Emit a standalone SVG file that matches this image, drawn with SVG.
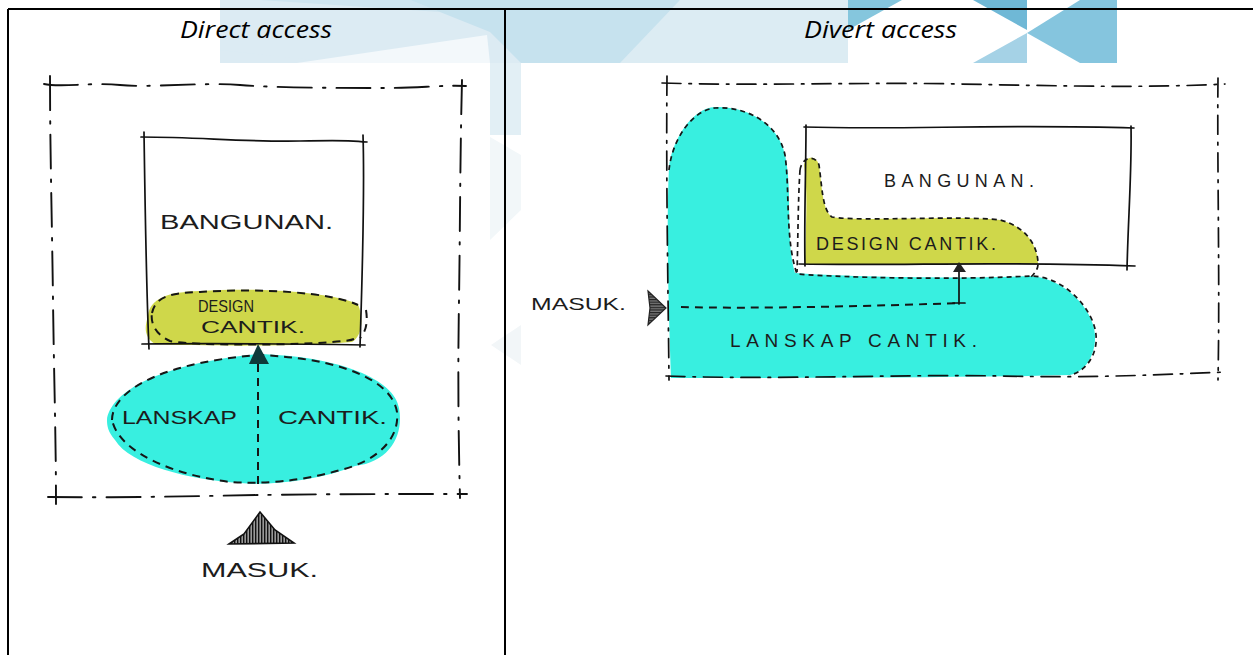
<svg xmlns="http://www.w3.org/2000/svg" width="1253" height="655" viewBox="0 0 1253 655">
<defs>
<style>
.ttl{font-family:"Open Sans","Liberation Sans",sans-serif;font-style:italic;font-size:23px;fill:#000}
.hw{font-family:"Liberation Sans",Arial,sans-serif;fill:#1c1c1c}
.ln{fill:none;stroke:#111;stroke-width:1.7;stroke-linecap:round}
.bd{fill:none;stroke:#111;stroke-width:1.9;stroke-dasharray:34 11 2.5 11;stroke-linecap:round}
.bdr{fill:none;stroke:#111;stroke-width:1.7;stroke-dasharray:19 8 2.5 8;stroke-linecap:round}
.ds{fill:none;stroke:#161616;stroke-width:2;stroke-dasharray:8 6}
.ds2{fill:none;stroke:#161616;stroke-width:1.7;stroke-dasharray:5 4}
.cy{fill:#38efe0}
.yl{fill:#cfd74a}
</style>
<pattern id="hatch" width="3" height="6" patternUnits="userSpaceOnUse"><rect width="3" height="6" fill="#999"/><rect width="1.4" height="6" fill="#111"/></pattern>
<pattern id="hatch2" width="6" height="2.6" patternUnits="userSpaceOnUse"><rect width="6" height="2.6" fill="#777"/><rect width="6" height="1.2" fill="#222"/></pattern>
</defs>
<rect width="1253" height="655" fill="#fff"/>
<g id="background">
<rect x="220" y="0" width="628" height="63" fill="#dcebf3"/>
<polygon points="220,63 220,50 340,63" fill="#dcebf3"/>
<polygon points="297,63 487,35 490,63" fill="#f3f8fb"/>
<polygon points="260,0 410,0 490,32 440,12" fill="#cfe5f0"/>
<polygon points="410,0 680,0 640,63 521,63 490,32" fill="#c6e2ee"/>
<polygon points="680,0 848,0 848,63 690,63 620,63" fill="#dcecf3"/>
<polygon points="848,0 902,0 848,30" fill="#85c6dd"/>
<polygon points="973,0 1027,0 1027,30" fill="#6fb8d6"/>
<polygon points="973,63 1027,33 1027,63" fill="#a5d2e6"/>
<polygon points="1080,0 1117,0 1117,63 1080,63 1027,33" fill="#85c5de"/>
<rect x="490" y="63" width="31" height="72" fill="#e2eff5"/>
<polygon points="490,137 521,155 521,210 490,240" fill="#f2f7f9"/>
<polygon points="491,345 521,325 521,365" fill="#f2f6f8"/>
</g>
<g id="table" fill="none" stroke="#000" stroke-width="2">
<path d="M8 9H1253M8 9V655M505 9V655"/>
</g>
<g id="direct-title"><text class="ttl" x="180" y="38" textLength="152" lengthAdjust="spacingAndGlyphs">Direct access</text></g>
<g id="divert-title"><text class="ttl" x="804" y="38" textLength="153" lengthAdjust="spacingAndGlyphs">Divert access</text></g>

<g id="left-design">
<path class="yl" d="M148 316 C150 298 168 292 200 291 C260 287 330 292 358 304 C364 320 362 336 352 342 C300 347 200 346 155 344 C143 336 145 326 148 316Z"/>
<path class="ds" d="M152 313 C156 296 170 293 200 292 C260 288 330 292 358 305 M366 310 C368 322 366 332 360 338 M354 339 C340 345 200 347 170 341 C158 336 150 325 152 313"/>
<text class="hw" x="198" y="312" font-size="17" textLength="56" lengthAdjust="spacingAndGlyphs">DESIGN</text>
<text class="hw" x="201" y="333" font-size="17" textLength="104" lengthAdjust="spacingAndGlyphs">CANTIK.</text>
</g>
<g id="left-landscape">
<path class="cy" d="M107 420 C110 395 150 365 258 354 C340 356 395 380 399 408 C404 435 390 462 355 466 C320 480 270 486 240 483 C190 480 130 465 115 440 C108 432 107 426 107 420Z"/>
<path class="ds" d="M112 420 C112 395 150 364 258 355 C340 358 392 380 397 412 C400 440 375 462 340 470 C300 482 260 484 230 482 C180 476 120 455 112 420Z"/>
<text class="hw" x="122" y="424" font-size="19" textLength="115" lengthAdjust="spacingAndGlyphs">LANSKAP</text>
<text class="hw" x="278" y="424" font-size="19" textLength="109" lengthAdjust="spacingAndGlyphs">CANTIK.</text>
</g>
<g id="left-site">
<path class="bd" d="M44 84 C60 88 90 82 120 85 S200 82 240 85 S340 88 380 88 S440 85 466 86"/>
<path class="bd" d="M50 76 C50 150 52 220 53 300 S56 440 56 504"/>
<path class="bd" d="M462 80 C460 160 460 240 459 300 S458 420 460 498"/>
<path class="bd" d="M48 497 C120 498 200 496 260 495 S400 494 467 494"/>
</g>
<g id="left-building">
<path class="ln" d="M141 137 C200 137 240 142 300 141 S350 141 367 142"/>
<path class="ln" d="M144 132 C145 200 146 280 149 349"/>
<path class="ln" d="M363 135 C365 200 362 280 360 347"/>
<path class="ln" d="M142 344 C220 343 300 344 365 345"/>
<text class="hw" x="160" y="229" font-size="20" textLength="173" lengthAdjust="spacingAndGlyphs">BANGUNAN.</text>
</g>
<g id="left-entry">
<polygon points="229,544 244,534 260,512 275,530 294,543" fill="url(#hatch)" stroke="#111" stroke-width="1.6"/>
<text class="hw" x="201" y="577" font-size="21" textLength="117" lengthAdjust="spacingAndGlyphs">MASUK.</text>
</g>

<g id="right-landscape">
<path class="cy" d="M669 167 C672 140 692 108 715 107 C745 106 778 122 785 155 C793 190 785 240 795 273 C850 277 960 279 1030 276 C1065 278 1094 310 1095 335 C1096 355 1085 372 1070 375 C950 378 800 378 671 378 C669 320 666 230 669 167Z"/>
<path class="ds2" d="M669 170 C672 140 692 110 715 108 C745 106 778 122 785 155 C790 190 785 240 797 274 C850 278 960 280 1030 276 C1065 276 1094 310 1096 335 C1098 355 1085 372 1070 375"/>
<text class="hw" x="730" y="347" font-size="19" textLength="247" lengthAdjust="spacing">LANSKAP CANTIK.</text>
</g>
<g id="right-design">
<path class="yl" d="M804 165 C806 156 816 155 819 165 C822 185 822 210 832 217 C860 222 960 215 1000 220 C1025 226 1038 245 1038 264 L805 264 C806 220 808 190 804 165Z"/>
<path class="ds2" d="M800 170 C802 157 815 154 819 165 C822 185 822 210 832 217 C860 222 960 215 1000 220 C1025 226 1038 245 1038 264 C1038 270 1034 274 1030 278 M800 170 C798 200 798 240 797 272"/>
<text class="hw" x="816" y="250" font-size="18" textLength="180" lengthAdjust="spacing">DESIGN CANTIK.</text>
</g>
<g id="right-site">
<path class="bdr" d="M662 83 C760 86 860 82 960 84 S1150 88 1225 84"/>
<path class="bdr" d="M667 76 C666 180 668 280 669 380"/>
<path class="bdr" d="M1218 78 C1217 160 1220 280 1218 380"/>
<path class="bdr" d="M666 376 C780 380 900 374 1000 376 S1150 375 1227 372"/>
</g>
<g id="right-building">
<path class="ln" d="M804 127 C900 130 1000 124 1134 128"/>
<path class="ln" d="M806 125 C806 170 804 220 805 266"/>
<path class="ln" d="M1131 126 C1132 170 1128 220 1127 270"/>
<path class="ln" d="M799 264 C900 266 1000 261 1135 266"/>
<text class="hw" x="884" y="187" font-size="18" textLength="150" lengthAdjust="spacing">BANGUNAN.</text>
</g>
<g id="right-entry">
<polygon points="648,291 666,308 648,325 650,308" fill="url(#hatch2)" stroke="#222" stroke-width="1.2"/>
<text class="hw" x="531" y="310" font-size="17" textLength="95" lengthAdjust="spacingAndGlyphs">MASUK.</text>
</g>
<g id="connectors">
<path class="ds" d="M258 364 V488" stroke-dasharray="26 8"/>
<polygon points="249,364 269,364 258,344" fill="#0f3a3a"/>
<path class="ds" d="M681 307 C750 309 880 306 959 303" stroke-dasharray="14 7"/>
<path class="ln" d="M959 270 V304 M953 303 H965"/>
<polygon points="953,272 966,272 959,262" fill="#222"/>
</g>
</svg>
